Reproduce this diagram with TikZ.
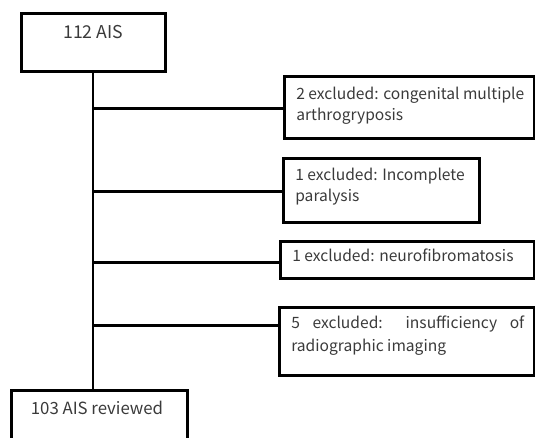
\documentclass[tikz,border=0pt]{standalone}
\usepackage{fontspec}
\setmainfont{Noto Sans CJK SC}
\definecolor{txtgray}{HTML}{3A3A3A}
\newcommand\fsa{\fontsize{15.6pt}{21pt}\selectfont}
% #1 width, #2 height, #3 top pad, #4 left pad, #5 text
\newcommand\boxtxt[5]{\parbox[t][#2][t]{#1}{\vspace*{#3}\hspace*{#4}\parbox[t]{\dimexpr#1-#4-3pt\relax}{\fsa\raggedright #5}}}
% #1 width, #2 height, #3 top pad, #4 shift, #5 size, #6 text
\newcommand\boxctr[6]{\parbox[t][#2][t]{#1}{\vspace*{#3}\makebox[#1][c]{\fontsize{#5}{#5}\selectfont\hspace*{#4}#6}}}
\tikzset{
  box/.style={draw, line width=2.6pt, inner sep=0pt, anchor=north west, text=txtgray},
  conn/.style={line width=2.6pt}
}
\begin{document}
\begin{tikzpicture}[x=1pt,y=-1pt]
\useasboundingbox (0,0) rectangle (535,437);
\clip (0,0) rectangle (535,437);
\node[box] (top) at (20,12) {\boxctr{144pt}{58pt}{11.5pt}{0pt}{17.7pt}{112 AIS}};
\node[box] (b1) at (283,75) {\boxtxt{250pt}{62pt}{11pt}{12pt}{2 excluded: congenital multiple arthrogryposis}};
\node[box] (b2) at (282,157) {\boxtxt{196pt}{64pt}{10pt}{12pt}{1 excluded: Incomplete paralysis}};
\node[box] (b3) at (279,240) {\boxtxt{254pt}{37pt}{7.5pt}{12pt}{1 excluded: neurofibromatosis}};
\node[box] (b4) at (278,306) {\boxtxt{255pt}{68pt}{9pt}{12pt}{\makebox[233pt][s]{5 excluded: insufficiency of}\\[2pt]radiographic imaging}};
\node[box] (bot) at (10,389) {\boxctr{176pt}{70pt}{11pt}{-4.6pt}{16.8pt}{103 AIS reviewed}};
\coordinate (sp) at (93,0);
\draw[conn] (top.south -| sp) -- (bot.north -| sp);
\draw[conn] ([yshift=-1pt]b1.west -| sp) -- ([yshift=-1pt]b1.west);
\draw[conn] ([yshift=-1pt]b2.west -| sp) -- ([yshift=-1pt]b2.west);
\draw[conn] ([yshift=-2.5pt]b3.west -| sp) -- ([yshift=-2.5pt]b3.west);
\draw[conn] ([yshift=16pt]b4.west -| sp) -- ([yshift=16pt]b4.west);
\end{tikzpicture}
\end{document}
